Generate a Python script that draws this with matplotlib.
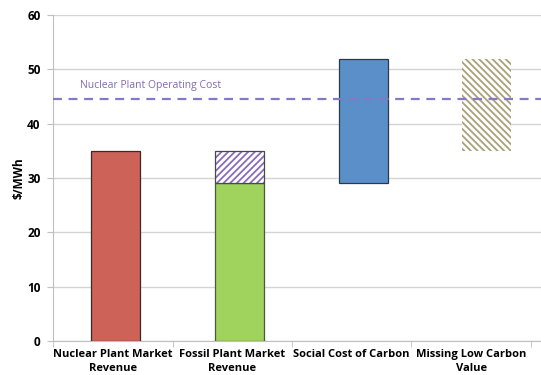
import matplotlib
matplotlib.use('Agg')
import matplotlib.pyplot as plt
import numpy as np

categories = ['Nuclear Plant Market\nRevenue', 'Fossil Plant Market\nRevenue',
              'Social Cost of Carbon', 'Missing Low Carbon\nValue']
bar_bottom = [0, 0, 29, 35]
bar_top = [35, 29, 52, 52]
fossil_extra_bottom = 29
fossil_extra_top = 35
operating_cost = 44.6
yticks = [0, 10, 20, 30, 40, 50, 60]

plt.rcParams['font.family'] = ['Open Sans', 'DejaVu Sans']
plt.rcParams['hatch.linewidth'] = 1.3

fig = plt.figure(figsize=(5.41, 3.75), dpi=100)
ax = fig.add_axes([0.098, 0.0907, 0.902, 0.869])

pos = np.arange(len(categories))
bar_x = pos * 1.036 + 0.023
w = 0.41
heights = np.array(bar_top) - np.array(bar_bottom)

# solid bars
ax.bar(bar_x[0], heights[0], w, bottom=bar_bottom[0], color='#cd6358', edgecolor='#3a2a2a', linewidth=0.9, zorder=3)
ax.bar(bar_x[1], heights[1], w, bottom=bar_bottom[1], color='#a0d25e', edgecolor='#4a5a3a', linewidth=0.9, zorder=3)
ax.bar(bar_x[2], heights[2], w, bottom=bar_bottom[2], color='#5b8fc9', edgecolor='#2a3a4a', linewidth=0.9, zorder=3)

# hatched pieces
ax.bar(bar_x[1], fossil_extra_top - fossil_extra_bottom, w, bottom=fossil_extra_bottom,
       color='white', edgecolor='#8a6cb8', hatch='/////', linewidth=0, zorder=3)
ax.bar(bar_x[1], fossil_extra_top - fossil_extra_bottom, w, bottom=fossil_extra_bottom,
       fill=False, edgecolor='#4a4a4a', linewidth=0.9, zorder=4)
ax.bar(bar_x[3], heights[3], w, bottom=bar_bottom[3],
       color='white', edgecolor='#aaa078', hatch='\\\\\\\\\\', linewidth=0, zorder=3)

# operating cost line
ax.axhline(operating_cost, color='#8478c8', linestyle=(0, (4, 3)), linewidth=1.6, zorder=5)
ax.text(-0.27, operating_cost + 1.4, 'Nuclear Plant Operating Cost', color='#8469b0',
        fontsize=7.5, va='bottom', ha='left')

ax.set_xlim(-0.5, 3.584)
ax.set_ylim(0, 60)
ax.set_yticks(yticks)
ax.set_yticklabels([str(v) for v in yticks], fontweight='bold', fontsize=8.5)
ax.set_xticks(pos)
ax.set_xticklabels(categories, fontweight='bold', fontsize=8, linespacing=1.35)
ax.set_xticks(np.arange(-0.5, 3.6, 1.0), minor=True)
ax.tick_params(axis='x', which='major', length=0, pad=6)
ax.tick_params(axis='x', which='minor', length=4, color='#bfbfbf')
ax.tick_params(axis='y', length=4, color='#bfbfbf', pad=5)
ax.set_ylabel('$/MWh', fontweight='bold', fontsize=8.5, labelpad=1)

ax.yaxis.grid(True, color='#d4d4d4', linewidth=1.0, zorder=0)
ax.set_axisbelow(True)
for s in ['top', 'right']:
    ax.spines[s].set_visible(False)
ax.spines['left'].set_color('#bfbfbf')
ax.spines['bottom'].set_color('#bfbfbf')

fig.savefig('out.png', dpi=100)
